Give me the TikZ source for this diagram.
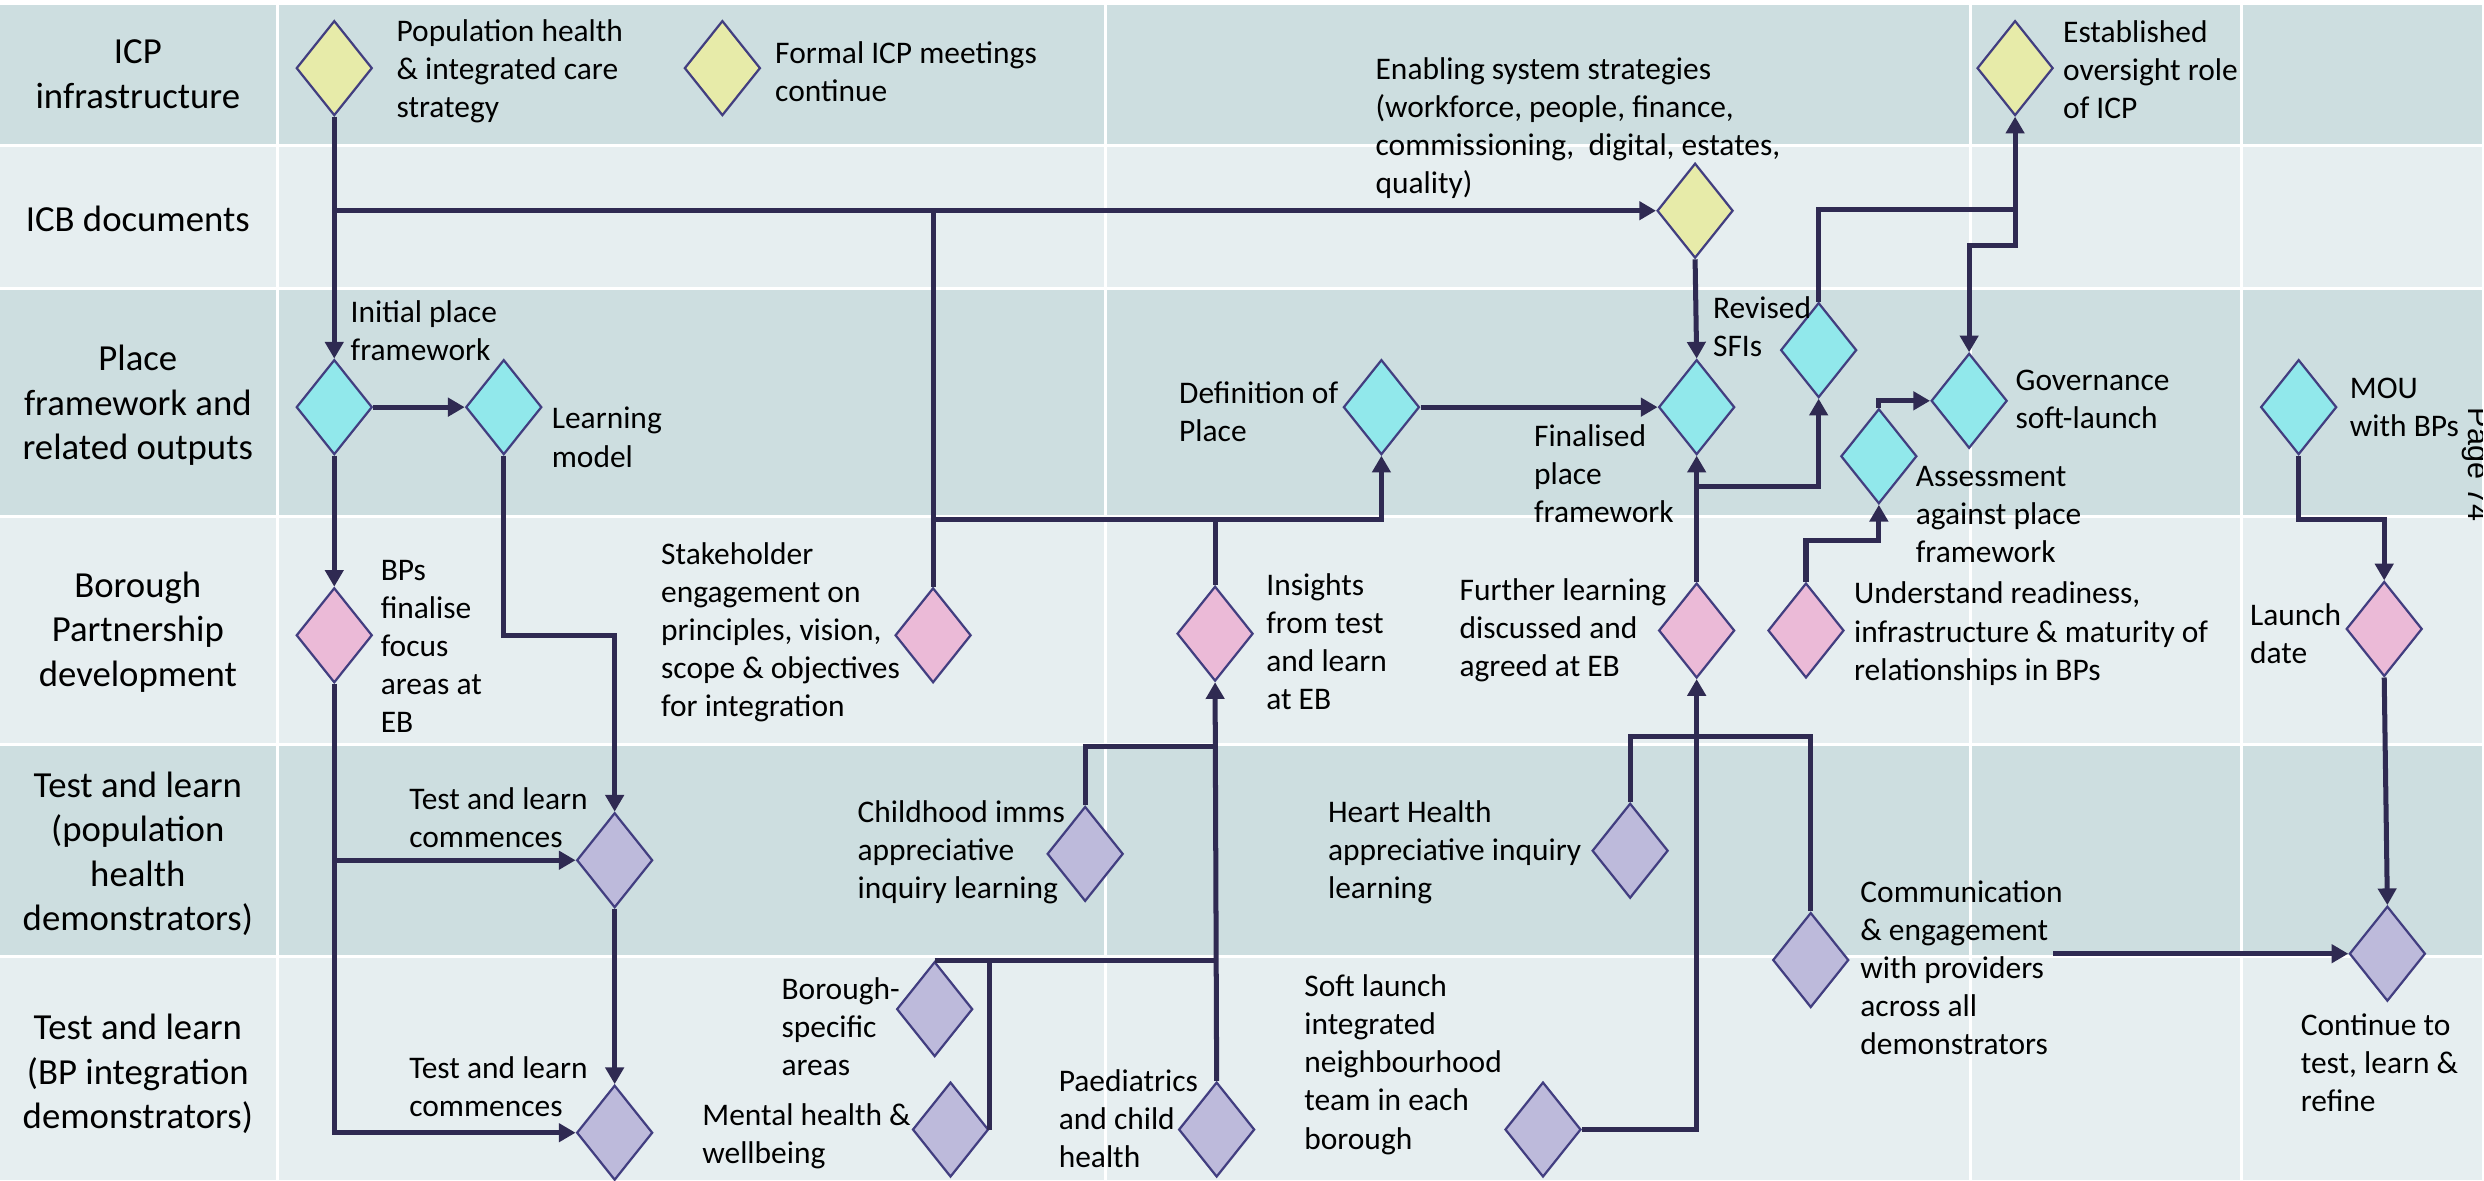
\documentclass[tikz,border=0pt]{standalone}
\usepackage{fontspec}
\setmainfont{Carlito}
\newfontfamily\pagefont{Liberation Sans}
\usepackage{tikz}
\usetikzlibrary{arrows.meta,shapes.geometric}

\definecolor{bandA}{RGB}{205,222,224}
\definecolor{bandB}{RGB}{230,238,240}
\definecolor{msedge}{RGB}{66,62,128}
\definecolor{msyellow}{RGB}{231,235,169}
\definecolor{mscyan}{RGB}{145,232,235}
\definecolor{mspink}{RGB}{235,186,215}
\definecolor{mslilac}{RGB}{189,186,219}
\definecolor{linkcol}{RGB}{47,42,82}

\begin{document}
\begin{tikzpicture}[x=0.02cm, y=-0.02cm,
  ms/.style={diamond, draw=msedge, line width=0.8pt, minimum width=27.3pt,
    minimum height=34.1pt, inner sep=0pt},
  icp/.style={ms, fill=msyellow},
  place/.style={ms, fill=mscyan},
  bp/.style={ms, fill=mspink},
  tl/.style={ms, fill=mslilac},
  lane/.style={align=center, inner sep=0pt, font=\fontsize{13.2}{16}\selectfont},
  txt/.style={align=left, anchor=west, inner sep=0pt, font=\fontsize{11.3}{13.7}\selectfont},
  link/.style={draw=linkcol, line width=1.8pt},
  arr/.style={link, -{Triangle[length=6pt, width=6.5pt]}},
  sep/.style={white, line width=1.1pt},
]
  \fill[white] (0,0) rectangle (1568,745);
  \useasboundingbox (0,0) rectangle (1568,745);

  % Swim lanes and the white grid over them.
  \foreach \t/\b/\c in {3/92/bandA, 92/182/bandB, 182/326/bandA,
                        326/470/bandB, 470/604/bandA, 604/745/bandB}
    \fill[\c] (0,\t) rectangle (1567,\b);
  \foreach \y in {92,182,326,470,604}
    \draw[sep] (0,\y) -- (1567,\y);
  \foreach \x in {175,698,1244,1415}
    \draw[sep] (\x,3) -- (\x,745);

  % Lane titles.
  \node[lane] (laneICP) at (87,47)  {ICP\\infrastructure};
  \node[lane] (laneICB) at (87,138) {ICB documents};
  \node[lane] (lanePF)  at (87,256) {Place\\framework and\\related outputs};
  \node[lane] (laneBP)  at (87,399) {Borough\\Partnership\\development};
  \node[lane] (laneTLP) at (87,539) {Test and learn\\(population\\health\\demonstrators)};
  \node[lane] (laneTLB) at (87,678) {Test and learn\\(BP integration\\demonstrators)};

  % ICP and ICB milestones.
  \node[icp] (Y1) at (211,43)  {};
  \node[icp] (Y2) at (456,43)  {};
  \node[icp] (Y3) at (1070,133) {};
  \node[icp] (Y4) at (1272,43) {};
  \node[txt] (tY1) at (250,45)  {Population health\\\& integrated care\\strategy};
  \node[txt] (tY2) at (489,45)  {Formal ICP meetings\\continue};
  \node[txt] (tY3) at (868,81)  {Enabling system strategies\\(workforce, people, finance,\\commissioning,~ digital, estates,\\quality)};
  \node[txt] (tY4) at (1302,44) {Established\\oversight role\\of ICP};

  % Place framework milestones.
  \node[place] (C1) at (211,257)  {};
  \node[place] (C2) at (318,257)  {};
  \node[place] (C3) at (872,257)  {};
  \node[place] (C4) at (1071,257) {};
  \node[place] (C5) at (1148,221) {};
  \node[place] (C6) at (1243,253) {};
  \node[place] (C7) at (1186,288) {};
  \node[place] (C8) at (1451,257) {};
  \node[txt] (tC1) at (221,209)  {Initial place\\framework};
  \node[txt] (tC2) at (348,276)  {Learning\\model};
  \node[txt] (tC3) at (744,260)  {Definition of\\Place};
  \node[txt] (tC4) at (968,299)  {Finalised\\place\\framework};
  \node[txt] (tC5) at (1081,206) {Revised\\SFIs};
  \node[txt] (tC6) at (1272,252) {Governance\\soft-launch};
  \node[txt] (tC7) at (1209,325) {Assessment\\against place\\framework};
  \node[txt] (tC8) at (1483,257) {MOU\\with BPs};

  % Borough Partnership milestones.
  \node[bp] (P1) at (211,401)  {};
  \node[bp] (P2) at (589,401)  {};
  \node[bp] (P3) at (767,400)  {};
  \node[bp] (P4) at (1071,398) {};
  \node[bp] (P5) at (1140,398) {};
  \node[bp] (P6) at (1505,397) {};
  \node[txt] (tP1) at (240,408)  {BPs\\finalise\\focus\\areas at\\EB};
  \node[txt] (tP2) at (417,399)  {Stakeholder\\engagement on\\principles, vision,\\scope \& objectives\\for integration};
  \node[txt] (tP3) at (799,405)  {Insights\\from test\\and learn\\at EB};
  \node[txt] (tP4) at (921,398)  {Further learning\\discussed and\\agreed at EB};
  \node[txt] (tP5) at (1170,400) {Understand readiness,\\infrastructure \& maturity of\\relationships in BPs};
  \node[txt] (tP6) at (1420,400) {Launch\\date};

  % Test and learn milestones.
  \node[tl] (L1)  at (388,543)  {};
  \node[tl] (L2)  at (685,539)  {};
  \node[tl] (L3)  at (1029,537) {};
  \node[tl] (L4)  at (1143,606) {};
  \node[tl] (L5)  at (1507,602) {};
  \node[tl] (L6)  at (388,715)  {};
  \node[tl] (L7)  at (590,637)  {};
  \node[tl] (L8)  at (600,713)  {};
  \node[tl] (L9)  at (768,713)  {};
  \node[tl] (L10) at (974,713)  {};
  \node[txt] (tL1)  at (258,516)  {Test and learn\\commences};
  \node[txt] (tL2)  at (541,538)  {Childhood imms\\appreciative\\inquiry learning};
  \node[txt] (tL3)  at (838,538)  {Heart Health\\appreciative inquiry\\learning};
  \node[txt] (tL4)  at (1174,611) {Communication\\\& engagement\\with providers\\across all\\demonstrators};
  \node[txt] (tL5)  at (1452,671) {Continue to\\test, learn \&\\refine};
  \node[txt] (tL6)  at (258,686)  {Test and learn\\commences};
  \node[txt] (tL7)  at (493,648)  {Borough-\\specific\\areas};
  \node[txt] (tL8)  at (443,717)  {Mental health \&\\wellbeing};
  \node[txt] (tL9)  at (668,706)  {Paediatrics\\and child\\health};
  \node[txt] (tL10) at (823,672)  {Soft launch\\integrated\\neighbourhood\\team in each\\borough};

  % Page number, cut off by the edge of the slide.
  \begin{scope}
    \clip (0,0) rectangle (1567,745);
    \node[rotate=-90, anchor=base west, inner sep=0pt,
      font=\pagefont\fontsize{11}{13}\selectfont] (pg) at (1558,257) {Page 74};
  \end{scope}

  % Junction points of the connectors.
  \coordinate (jDef)  at (589,328);
  \coordinate (jSFI)  at (1071,307);
  \coordinate (jOver) at (1272,132);
  \coordinate (jHH)   at (1143,465);
  \coordinate (jCI)   at (767,471);
  \coordinate (cComm) at (1296,602);

  % Upper half.
  \draw[arr] (Y1.south) -- (C1.north);
  \draw[arr] (Y1.south |- Y3.west) -- (Y3.west);
  \draw[link] (P2.north) -- (P2.north |- Y3.west);
  \draw[arr] (jDef) -| (C3.south);
  \draw[link] (P3.north) -- (P3.north |- jDef);
  \draw[arr] (C1.east) -- (C2.west);
  \draw[arr] (C1.south) -- (P1.north);
  \draw[arr] (Y3.south) -- (C4.north);
  \draw[arr] (C3.east) -- (C4.west);
  \draw[arr] (P4.north) -- (C4.south);
  \draw[arr] (jSFI) -| (C5.south);
  \draw[arr] (C5.north) |- (jOver) -- (Y4.south);
  \draw[arr] (jOver) -- ++(0,23) -| (C6.north);
  \draw[arr] (P5.north) -- ++(0,-26) -| (C7.south);
  \draw[arr] (C7.north) |- (C6.west);
  \draw[arr] (C8.south) -- ++(0,40) -| (P6.north);

  % Lower half.
  \draw[arr] (P1.south) |- (L6.west);
  \draw[arr] (P1.south |- L1.west) -- (L1.west);
  \draw[arr] (C2.south) |- (P1.east -| L1.north) -- (L1.north);
  \draw[arr] (L1.south) -- (L6.north);
  \draw[arr] (P6.south) -- (L5.north);
  \draw[arr] (cComm) -- (L5.west);
  \draw[arr] (L10.east) -| (P4.south);
  \draw[link] (L3.north) |- (jHH) -- (L4.north);
  \draw[arr] (L9.north) -- (P3.south);
  \draw[link] (L2.north) |- (jCI);
  \draw[link] (L7.north) -- (L7.north -| L9.north);
  \draw[link] (L8.east) -- (L8.east |- L7.north);
\end{tikzpicture}
\end{document}
